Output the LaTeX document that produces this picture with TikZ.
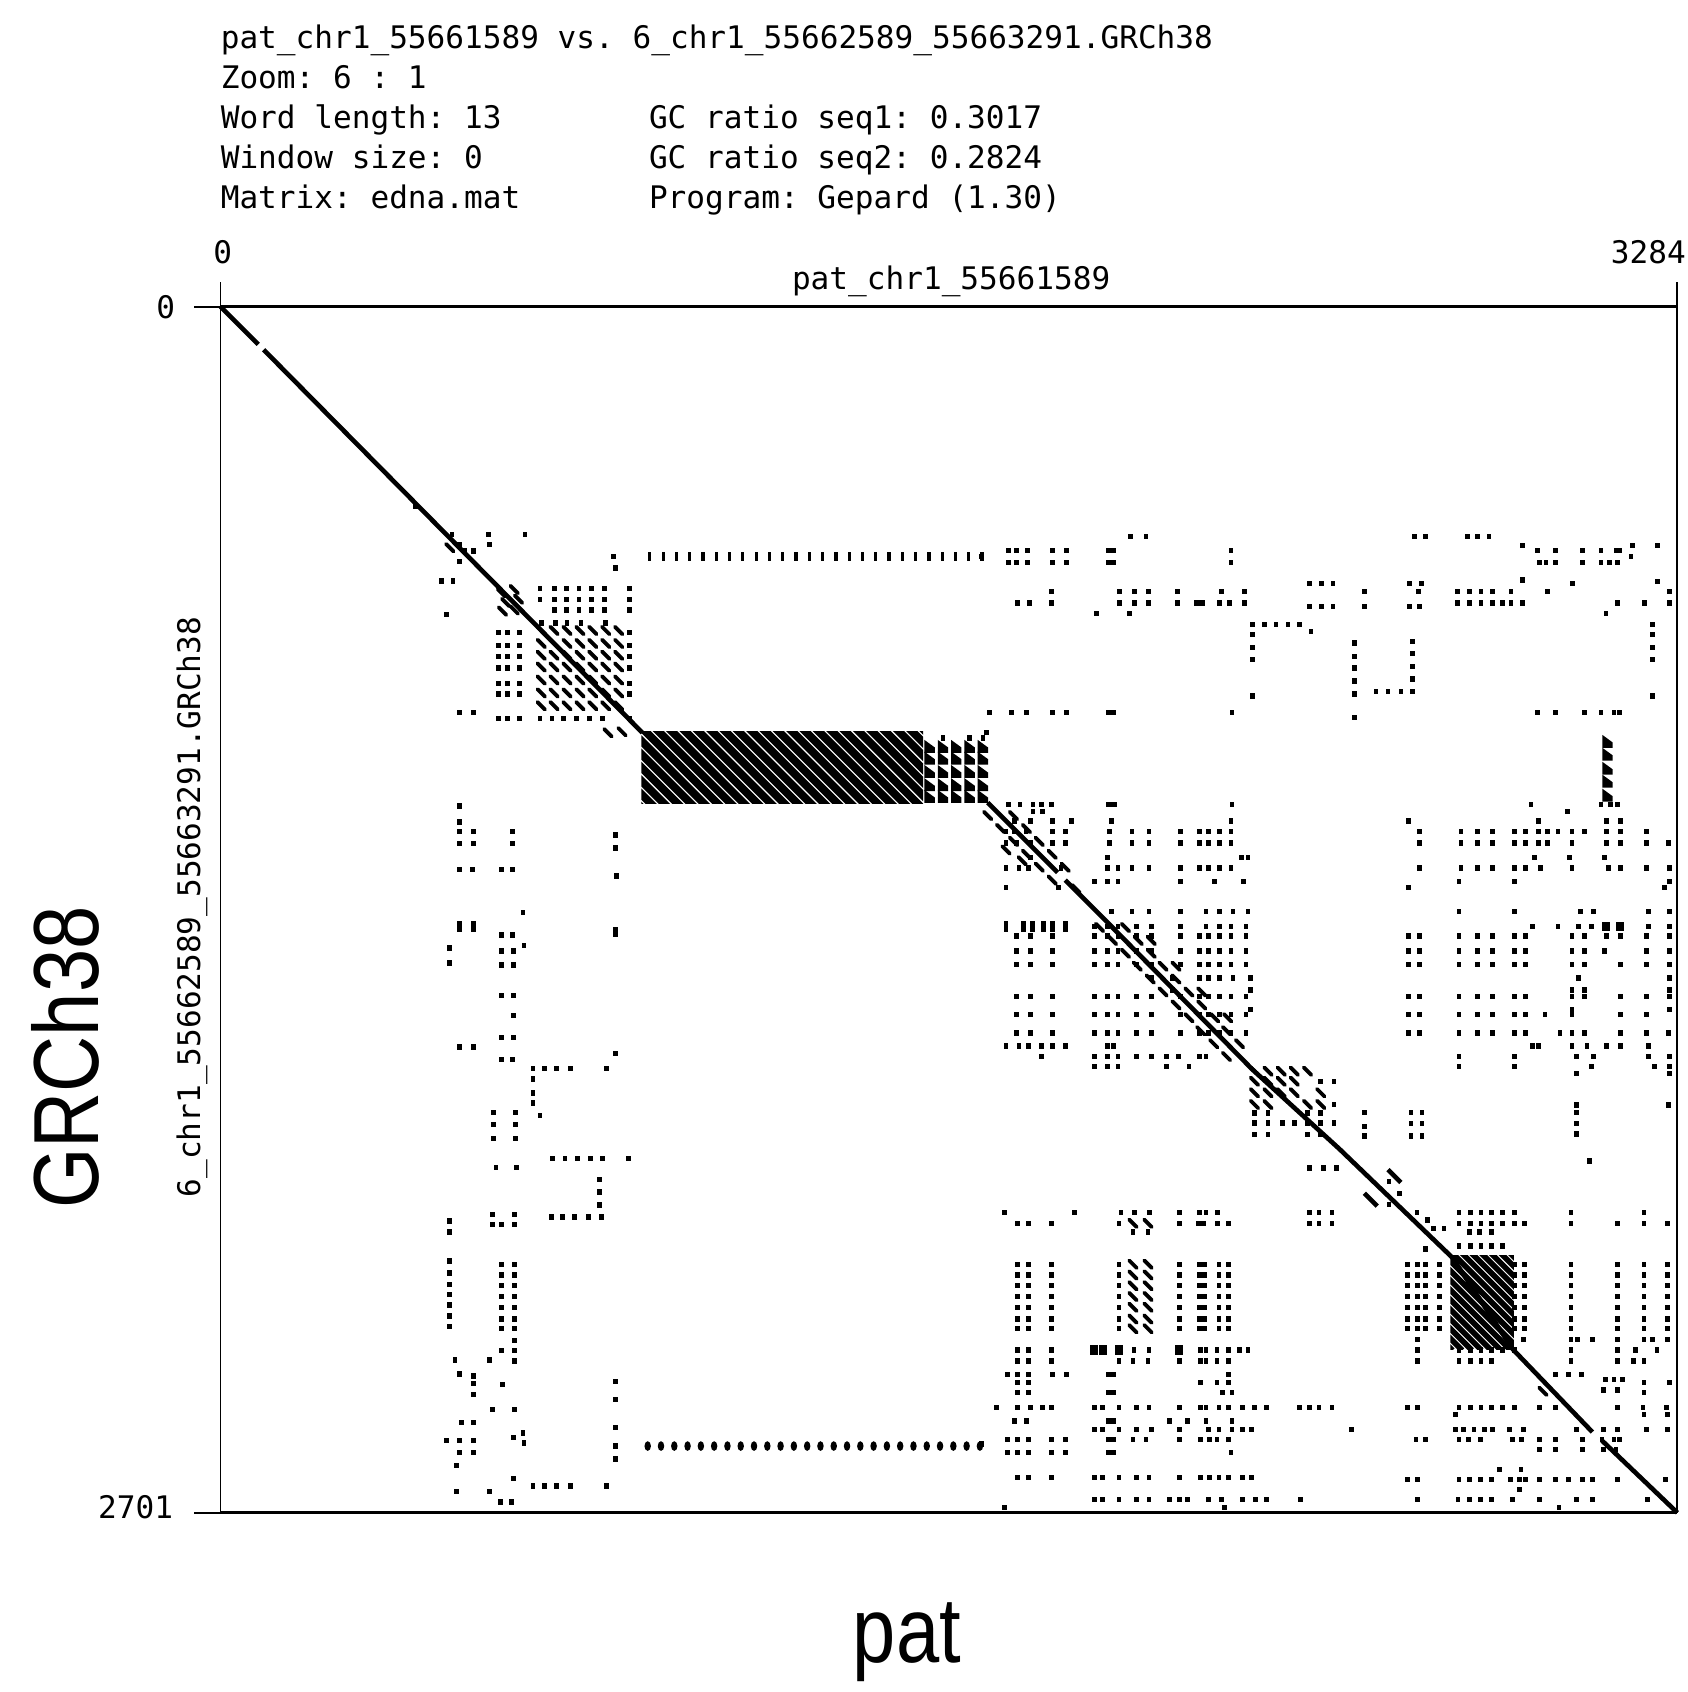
\documentclass[tikz,border=0pt]{standalone}
\usepackage{fontspec}
\usepackage{graphicx}
\setmainfont{Liberation Sans}
\newfontfamily\monof{DejaVu Sans Mono}
\frenchspacing
\newcommand\DRow[2]{\foreach \xx in {#2}{\fill (\xx-2.2,#1-2.5) rectangle ++(4.4,5);}}
\newcommand\DCol[2]{\foreach \yy in {#2}{\fill (#1-2.2,\yy-2.5) rectangle ++(4.4,5);}}
\newcommand\DWide[2]{\fill (#1-4.8,#2-2.5) rectangle ++(9.6,5);}
\newcommand\DBar[2]{\fill (#1-2.2,#2-4.8) rectangle ++(4.4,9.6);}
\newcommand\DBig[2]{\fill (#1-3.8,#2-4.3) rectangle ++(7.6,8.6);}
\newcommand\DDash[2]{\draw[dashmark] (#1-3.5,#2-3.5)--(#1+3.5,#2+3.5);}
\newcommand\DTri[2]{\fill (#1-4.8,#2-6)--(#1+4.8,#2+1)--(#1+4.8,#2+6)--(#1-4.8,#2+6)--cycle;}
\begin{document}
\begin{tikzpicture}[x=1pt,y=-1pt,
  mono/.style={inner sep=0pt,font=\monof\fontsize{28.9}{30}\selectfont},
  big/.style={inner sep=0pt},
  frame/.style={line width=1.7},
  frameh/.style={line width=2.8},
  diag/.style={line width=4.3,line cap=butt},
  dashmark/.style={line width=3.6,line cap=round},
  stripe/.style={line width=7.4}]
\fill[white] (0,0) rectangle (1568,1572.6);
\useasboundingbox (0,0) rectangle (1568,1572.6);

% ---------- header ----------
\node[mono,anchor=base west] (t1) at (205,45) {pat\_chr1\_55661589 vs. 6\_chr1\_55662589\_55663291.GRCh38};
\node[mono,anchor=base west] (t2) at (205,82) {Zoom: 6 : 1};
\node[mono,anchor=base west] (t3) at (205,119) {Word length: 13};
\node[mono,anchor=base west] (t3b) at (603,119) {GC ratio seq1: 0.3017};
\node[mono,anchor=base west] (t4) at (205,156.5) {Window size: 0};
\node[mono,anchor=base west] (t4b) at (603,156.5) {GC ratio seq2: 0.2824};
\node[mono,anchor=base west] (t5) at (205,193.5) {Matrix: edna.mat};
\node[mono,anchor=base west] (t5b) at (603,193.5) {Program: Gepard (1.30)};

% ---------- axes ----------
\coordinate (tl) at (205,285);
\coordinate (tr) at (1559,285);
\coordinate (bl) at (205,1406);
\coordinate (br) at (1559,1406);
\node[mono,anchor=base] (x0) at (207,244.7) {0};
\node[mono,anchor=base east] (x1) at (1567,244.7) {3284};
\node[mono,anchor=base] (xname) at (884,269.4) {pat\_chr1\_55661589};
\node[mono,anchor=base east] (y0) at (163,296) {0};
\node[mono,anchor=base east] (y1) at (161,1411) {2701};
\node[mono,rotate=90] (yname) at (178.5,843) {6\_chr1\_55662589\_55663291.GRCh38};
\node[big,rotate=90] (ylab) at (61,983) {\scalebox{0.84}[1]{\fontsize{86}{86}\selectfont GRCh38}};
\node[big,anchor=base] (xlab) at (843,1545) {\scalebox{0.84}[1]{\fontsize{86}{86}\selectfont pat}};

\draw[frame] (tl) -- (bl);
\draw[frame] (tr) -- (br);
\draw[frameh] (tl) -- (tr);
\draw[frameh] (bl) -- (br);
\draw[frame] (tl) -- ++(0,-23);
\draw[frame] (tr) -- ++(0,-23);
\draw[frame] (tl) -- ++(-25,0);
\draw[frame] (bl) -- ++(-25,0);

% ---------- main diagonal ----------
\draw[diag] (tl) -- (240,320);
\draw[diag] (245,325) -- (597,681);
\draw[diag] (918,746) -- (983,811);
\draw[diag] (990,818) -- (1030,858) -- (1164,994) -- (1245,1068) -- (1350,1169) -- (1406,1254) -- (1480,1331);
\draw[diag] (1489,1339) -- (br);
\draw[diag] (1290,1087) -- (1302,1099);
\draw[diag] (1268,1109) -- (1280,1121);
\DRow{1098}{1291}\DRow{1109}{1300.6}\DRow{1119.5}{1291}
\DRow{470.7}{386}

% ---------- big tandem block ----------
\begin{scope}
\clip (596,680) rectangle (858,746.5);
\foreach \i in {-6,...,21} \draw[stripe] (596+\i*12.4,676) -- ++(74,74);
\end{scope}
\foreach \xx in {864,876.4,888.8,901.2,913.5}{\foreach \yy in {693.7,704.6,717,729.3,740.2}{\DTri{\xx}{\yy}}}
\DRow{686}{876.4,901.2,913.5}

% ---------- upper-left cluster ----------
\DRow{497}{420,454,488}
\DRow{506}{427,455}
\DRow{512}{432,440}
\DRow{522}{427}
\DRow{540}{410,421}
\DRow{571}{415}
\DDash{418}{509}
\foreach \i in {0,...,25}{\fill (604+\i*12.35-1.5,513) rectangle ++(3,8.5);}
\DRow{517}{570}
\DRow{528}{572}

% block 2
\DRow{547}{502,515.6,526.5,538.2,549.7,561.5,585}
\DRow{557}{502,515.6,526.5,538.2,549.7,561.5,585}
\DRow{567}{515.6,526.5,538.2,549.7,561.5,585}
\DRow{579}{503,516,527,540,563}
\DRow{588}{463,472,483,585}
\DRow{600}{463,472,483,585}
\DRow{610}{463,472,483,585}
\DRow{621}{463,472,483,585}
\DRow{635}{463,472,483,585}
\DRow{645}{463,472,483,585}
\DRow{668}{463,472,483,502,513,524,536,548,560,585}
\DRow{662}{427,440}
\foreach \xx/\yy in {466/551,478/548,470/560,482/557,467/568,478/567,565/681,578/680}{\DDash{\xx}{\yy}}
\foreach \xx in {503,515,527,539,551,563,575}{\foreach \yy in {586,598,609,620,632,644,656}{\DDash{\xx}{\yy}}}

% ---------- left columns, lower ----------
\DRow{749}{427}
\DRow{764}{427}
\DRow{773}{427,440,476}
\DRow{776}{572}
\DRow{784}{427,440,476}
\DRow{788}{572}
\DRow{808}{427,439,466,476}
\DRow{814}{573}
\DRow{848}{486}
\DBar{427}{861}\DBar{440}{861}\DBar{572}{866}
\DRow{869}{466,476}
\DRow{879}{487}
\DRow{881}{417.5}
\DRow{884}{466,477}
\DRow{895}{417.5}
\DRow{897}{466,477}
\DRow{925}{466,477}
\DRow{944}{477}
\DRow{964}{466,477}
\DRow{973}{427,440}
\DRow{979}{572}
\DRow{985}{466,476}
\DRow{993}{495.5,506,517,530,564}
\DCol{495.5}{1003,1016,1025}
\DRow{1037}{502}
\DRow{1034}{459,479}
\DRow{1045}{459,479}
\DRow{1058}{459,479}
\DRow{1077}{513.5,525,537,549,560,584}
\DRow{1085}{461,480}
\DCol{557}{1096,1108,1120}
\DRow{1131}{512.5,523,534,547,559}
\DRow{1129}{458,478.5}
\DRow{1135}{417.5}
\DRow{1138}{458,466,478.5}
\DRow{1145}{417.5}
\DCol{417.5}{1172,1183,1194,1203,1213,1223,1233}
\DCol{466}{1175,1185,1195,1205,1215,1226,1235,1255}
\DCol{478}{1175,1185,1195,1205,1215,1226,1235,1246,1255,1265}
\DRow{1264}{423,455}
\DRow{1277}{427}
\DCol{440}{1279,1286,1296}
\DRow{1287}{467}
\DCol{572}{1284,1301,1327,1344,1356}
\DRow{1310}{458,478.5}
\DRow{1322}{429,440}
\DRow{1339}{415,427,440}
\DRow{1350}{427,440}
\DRow{1336}{477}
\DRow{1332}{486}
\DRow{1341}{487}
\DRow{1362}{424}
\DRow{1374}{477}
\DRow{1381}{495.5,506,517,530,564}
\DRow{1386}{424,455}
\DRow{1396}{465.5,475.4}
\foreach \i in {0,...,25}{\fill (602+\i*12.35,1344) ellipse [x radius=3,y radius=4.5];}

% ---------- upper right ----------
\DRow{498.6}{1051,1065,1314.5,1325,1364,1373,1384}
\DRow{507}{1415,1517,1540.6}
\DRow{511.6}{937,944.5,955,978.5,991,1144,1429,1446,1471,1488,1502,1505}
\DWide{1032.7}{511.6}
\DRow{517}{912,1516}
\DRow{523}{937,944.5,955,978.5,991,1144,1430.7,1437,1446,1471,1488,1496,1503}
\DWide{1032.7}{523}
\DRow{539}{1415}
\DRow{540.4}{1540.6}
\DRow{542.6}{1217,1228,1239,1310,1321,1461.6}
\DRow{549.7}{977,1040.5,1054.4,1067.7,1094.7,1135,1156.6,1268,1318.5,1354.8,1365.6,1376.5,1387.3,1404.3,1438.4,1551.4}
\DRow{560.5}{946,957,977,1040.5,1054.4,1067.7,1094.7,1133.4,1142.7,1156.6,1354.8,1365.6,1376.5,1387.3,1396.6,1404.3,1415.2,1503.4,1528.2,1551.4}
\DWide{1114.8}{560.5}
\DRow{563.6}{1217,1228,1239,1268,1310,1319}
\DRow{570}{1019,1050,1492.6}
\DRow{580.7}{1164.4,1175,1186,1197,1207.7,1536}
\DRow{587}{1218.5}
\DCol{1164.4}{590,602,613,647}
\DCol{1258.8}{597.7,610,621,633,645,667}
\DCol{1313}{596,607.6,619.4,631,642.6}
\DRow{642.6}{1279,1290,1302}
\DCol{1536}{590,602,613,647}
\DRow{662}{920,940,954,978.5,991,1145,1429,1446,1472.5,1488,1500,1505}
\DWide{1032.7}{662}
\foreach \yy in {689,701,714,726,739}{\DTri{1494}{\yy}}
\DRow{681}{916.6}
\DRow{748}{937,948,960,968,977,1145,1423,1488,1497,1503}
\DWide{1033}{748}
\DRow{754}{960,969,1457}

% ---------- middle right ----------
\DRow{763}{943,958,978,996,1033,1144,1309,1430,1493,1506}
\DRow{772.6}{935,943,953.5,978,990,1031,1052,1068,1097,1115,1123,1133.5,1144,1319.6,1358,1373,1387,1407.5,1418,1430,1438,1448,1461,1473,1493,1506,1530}
\DRow{783.4}{935,945,958,978,990,1031,1052,1068,1097,1115,1123,1133.5,1144,1319.6,1358,1373,1387,1407.5,1418,1430,1438,1461,1493,1506,1530,1551}
\DRow{797}{958,1029,1154,1160,1426,1459,1491}
\DRow{806.7}{935,947,956,986,1029,1039,1052,1068,1097,1115,1123,1133.5,1144,1319.6,1358,1373,1387,1407.5,1418,1432,1461,1495,1506,1530,1552}
\DRow{819}{1017,1029,1039,1097,1129,1156,1356,1407.5,1552}
\DRow{825}{935,984,1309,1547}
\DRow{847}{1033,1052,1068,1097,1121,1133.5,1146,1160,1356,1407.5,1469,1481,1532,1552}
\foreach \xx in {935,951.5,959.7,970,978,990}{\DBar{\xx}{861}}
\DRow{861}{1017,1029,1039,1056,1070,1097,1121,1133.5,1144,1158,1424,1448,1467,1479,1532,1552}
\DBig{1493}{861}\DBig{1506}{861}
\DRow{870}{945,958,978,1017,1029,1039,1056,1070,1097,1115,1123,1133.5,1144,1158,1309,1319.6,1356,1373,1387,1407.5,1418,1461,1473,1493,1506,1530,1552}
\DRow{884}{945,958,978,1017,1029,1039,1056,1070,1097,1115,1123,1133.5,1144,1158,1309,1319.6,1356,1373,1387,1407.5,1418,1461,1473,1491,1530,1552}
\DRow{896.5}{945,958,978,1017,1029,1039,1056,1070,1097,1115,1123,1133.5,1144,1158,1309,1319.6,1356,1373,1387,1407.5,1418,1461,1473,1506,1530,1552}
\DRow{909}{1070,1090,1115,1123,1133.5,1146,1162,1467,1552}
\DRow{920}{1090,1162,1461,1473,1552}
\DRow{926}{945,958,978,1017,1029,1039,1056,1070,1097,1115,1123,1133.5,1144,1158,1309,1319.6,1356,1373,1387,1407.5,1418,1461,1473,1506,1530,1552}
\DRow{938}{1162,1461,1552}
\DRow{943}{945,958,978,1017,1029,1039,1056,1070,1097,1115,1123,1133.5,1144,1158,1309,1319.6,1356,1373,1387,1407.5,1418,1436,1461,1506,1530}
\DRow{960}{945,958,978,1017,1029,1039,1056,1070,1097,1115,1123,1133.5,1144,1158,1309,1319.6,1356,1373,1387,1407.5,1418,1450,1461,1473,1506,1530,1551}
\DRow{972}{935,947,956,968,978,990,1029,1035,1424,1430,1461,1475,1493,1506,1532}
\DRow{981.7}{968,1017,1029,1039,1056,1070,1084,1095,1115,1121,1356,1407.5,1465,1481,1532,1552}
\DRow{991}{1017,1029,1039,1084,1105,1356,1407.5,1479,1538,1552}
\DRow{997.5}{1465,1552}
% dashes along the diagonal
\foreach \xx/\yy in {942/758,954/770,966/782,978/794,990/806,918/758,930/770,942/782,954/794,966/806,978/818,935/790,950/800,1000/826}{\DDash{\xx}{\yy}}
\foreach \xx/\yy in {1046/862,1058/874,1070/886,1081/898,1093/910,1105/922,1117/934,1129/946,1140/958,1152/970,1022/862,1034/874,1046/886,1057/898,1069/910,1081/922,1093/934,1105/946,1116/958,1128/970,1140/982,1070/874,1093/898,1117/922,1141/946}{\DDash{\xx}{\yy}}
% small block 3
\foreach \xx/\yy in {1166/995.6,1178.5/995.6,1190.8/995.6,1203/995.6,1215.3/995.6,1166/1005,1178.5/1005,1190.8/1005,1203/1005,1166/1015.7,1178.5/1015.7,1190.8/1015.7,1203/1015.7,1227.6/1015.7,1166/1026.6,1178.5/1026.6,1215.3/1026.6,1227.6/1026.6}{\DDash{\xx}{\yy}}
\DRow{1005}{1227.6,1239.8}
\DRow{1026.6}{1239.8}
\DRow{1034.3}{1166,1178.5,1215,1227.6}
\DRow{1043.6}{1166,1178.5,1192,1203,1215,1227.6,1239.8}
\DRow{1054.4}{1166,1178.5,1215,1227.6}
\DCol{1268.5}{1034,1047,1056}
\DCol{1311.4}{1034,1044,1056}
\DCol{1321.6}{1034,1044,1056}
\DCol{1465}{1027,1034,1044,1054}
\DRow{1079}{1477}
\DRow{1027}{1551}
\DRow{1085.4}{1217,1230,1242}

% ---------- lower right ----------
\DRow{1127.2}{933.6,998.7,1042,1054.4,1068.4,1096.2,1114.8,1121,1131.8,1217,1226,1238,1356,1367,1376.5,1386,1396.6,1407.5,1460,1528}
\DRow{1137.1}{946,956,977,1040,1096,1131.8,1142,1217,1226,1238,1356,1367,1376.5,1386,1396.6,1407.5,1417,1460,1503.5,1528,1550}
\DDash{1053}{1137}\DDash{1067}{1137}\DWide{1116}{1137.1}
\DRow{1145}{1053,1067,1365.6,1375,1386}
\DRow{1158}{1356,1367,1376.5,1386,1396.6}
\DRow{1127}{1317}\DRow{1134}{1327}\DRow{1142}{1332,1342}\DRow{1161}{1325}
\foreach \yy in {1175,1185,1195,1205,1215,1226,1235}{
  \DRow{\yy}{946,956,977,1040,1096,1133,1142,1308,1317.7,1325,1337.8,1407.5,1416.7,1460,1503.5,1528,1550}
  \DDash{1053}{\yy}\DDash{1067}{\yy}\DWide{1117}{\yy}}
\begin{scope}
\clip (1348,1167) rectangle (1407,1254);
\foreach \i in {-10,...,7} \draw[line width=5.2] (1348+\i*9,1163) -- ++(92,92);
\end{scope}
\DRow{1245}{1317.7,1416,1460,1466,1480,1503.5,1528,1536,1550}
\DRow{1254.8}{946,956,977,1054,1068,1116,1121,1131,1142,1152,1160,1317.7,1356,1367,1376.5,1386,1396.6,1407.5,1460,1503.5,1520,1540}
\DBig{1017}{1254.8}\DBig{1025}{1254.8}\DBig{1040}{1254.8}\DBig{1096}{1254.8}
\DRow{1265}{946,956,977,1040,1053,1067,1096,1116,1121,1131,1142,1317.7,1356,1367,1376.5,1386,1460,1503.5,1518,1528}
\DRow{1277.4}{936.7,946,956,978.5,991,1142,1446,1458,1470}
\DWide{1032.7}{1277.4}
\DRow{1285}{946,956,1116,1131,1142,1528,1552}
\DRow{1294.4}{946,956,1136,1145,1528}
\DWide{1032.7}{1294.4}
\DRow{1282}{1492,1500,1508}
\DRow{1292}{1490,1503}
\DDash{1434}{1283}\DDash{1434}{1293}
\DRow{1308.3}{926,946,958,969,977,1017,1025,1040,1056,1068,1096,1116,1121,1133,1142,1155,1166,1177,1207.7,1217,1226,1238,1308.4,1317.7,1356,1367,1376.5,1386,1396.6,1407.5,1431,1446,1503.5,1527,1549}
\DRow{1314.5}{1353,1528,1550}
\DRow{1320.7}{943,954,1087,1104,1121,1145}
\DWide{1032.7}{1320.7}
\DRow{1328.5}{1017,1025,1040,1056,1070,1096,1123,1133,1145,1155,1163,1256,1353,1360,1370,1380,1387,1403,1416,1465,1490,1503.5,1530,1550}
\DRow{1337.8}{936.7,946,956,977,990,1053,1065,1096,1116,1124,1131,1142,1316,1325,1356,1365,1376,1406,1414,1431,1446,1471,1489,1500,1505}
\DWide{1032.7}{1337.8}
\DRow{1342}{912}
\DRow{1347}{1431,1446,1471,1490,1502}
\DRow{1350.2}{936.7,946,956,977,990,1144}
\DWide{1032.7}{1350.2}
\DRow{1365.7}{1393.5,1413.6}
\DRow{1373.4}{946,956,977,1017,1025,1040,1056,1068,1096,1116,1124,1133,1142,1155,1163}
\DRow{1375}{1308.4,1317.7,1356,1366,1376,1386,1404,1412,1418,1431,1446,1458,1471,1480,1503.5,1548}
\DRow{1384.3}{1412}
\DRow{1393.5}{1017,1025,1040,1056,1068,1087,1096,1104,1123,1135,1155,1167,1177,1209,1317.7,1355,1366,1376,1386,1406,1431,1465,1480,1531}
\DRow{1401.3}{933.6,1138,1449}
\end{tikzpicture}
\end{document}
